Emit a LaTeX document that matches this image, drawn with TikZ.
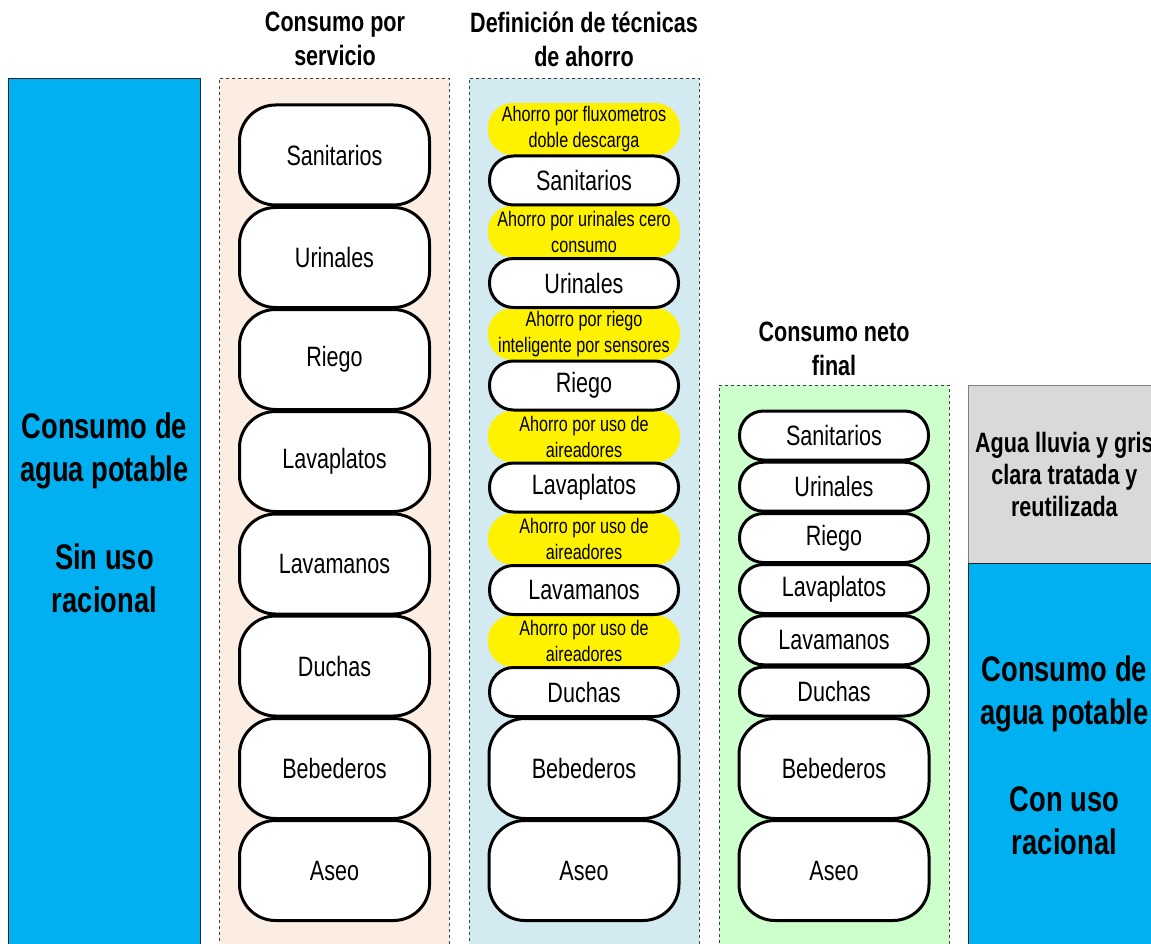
\documentclass[tikz,border=0pt]{standalone}
\usepackage{fontspec}
\setmainfont{Liberation Sans}[FakeStretch=0.77]
\usepackage{tikz}
\usetikzlibrary{positioning}
\definecolor{azul}{RGB}{0,176,240}
\definecolor{durazno}{RGB}{252,237,227}
\definecolor{celeste}{RGB}{210,234,240}
\definecolor{verde}{RGB}{204,255,204}
\definecolor{gris}{RGB}{217,217,217}

\begin{document}
\begin{tikzpicture}[x=1pt, y=-1pt,
    bar/.style={draw=black!85, line width=0.8pt, anchor=north west, align=center,
                font=\bfseries\fontsize{35.5}{43}\selectfont},
    colbox/.style={draw=black!75, dashed, line width=0.7pt, anchor=north west,
                   minimum width=230pt, minimum height=870pt},
    hdr/.style={font=\bfseries\fontsize{28}{34}\selectfont, align=center},
    pill/.style={draw, line width=3pt, fill=white, rounded corners=36pt,
                 minimum width=190pt, minimum height=100pt,
                 font=\fontsize{28}{34}\selectfont},
    pillsm/.style={draw, line width=3pt, fill=white, rounded corners=24pt,
                   minimum width=189pt, minimum height=49pt,
                   font=\fontsize{28}{34}\selectfont},
    ahorro/.style={fill=yellow, rounded corners=25pt, minimum width=192pt,
                   minimum height=52pt, align=center,
                   font=\fontsize{21}{26}\selectfont},
  ]
    \useasboundingbox (0,0) rectangle (1151,944);
    \clip (0,0) rectangle (1151,944);

    % Left bar
    \node[bar, fill=azul, minimum width=192pt, minimum height=868pt] (sinuso) at (8,78)
      {Consumo de\\agua potable\\[45pt]Sin uso\\racional};

    % Columns
    \node[colbox, fill=durazno] (serv) at (219,78) {};
    \node[colbox, fill=celeste] (tec)  at (469,78) {};
    \node[colbox, fill=verde, minimum height=563pt] (neto) at (719,385) {};

    \node[hdr] (hserv) at (335,39)  {Consumo por\\servicio};
    \node[hdr] (htec)  at (584,39)  {Definición de técnicas\\de ahorro};
    \node[hdr] (hneto) at (834,349) {Consumo neto\\final};

    % Consumo por servicio
    \node[pill] (s1) at (334.5,155)   {Sanitarios};
    \node[pill] (u1) at (334.5,257.5) {Urinales};
    \node[pill] (r1) at (334.5,359.5) {Riego};
    \node[pill] (p1) at (334.5,461.5) {Lavaplatos};
    \node[pill] (m1) at (334.5,564)   {Lavamanos};
    \node[pill] (d1) at (334.5,666)   {Duchas};
    \node[pill] (b1) at (334.5,768.5) {Bebederos};
    \node[pill] (a1) at (334.5,870.5) {Aseo};

    % Tecnicas de ahorro
    \node[ahorro] (t1) at (584,129)   {Ahorro por fluxometros\\doble descarga};
    \node[ahorro] (t2) at (584,231.5) {Ahorro por urinales cero\\consumo};
    \node[ahorro] (t3) at (584,334)   {Ahorro por riego\\inteligente por sensores};
    \node[ahorro] (t4) at (584,436.5) {Ahorro por uso de\\aireadores};
    \node[ahorro] (t5) at (584,539)   {Ahorro por uso de\\aireadores};
    \node[ahorro] (t6) at (584,641)   {Ahorro por uso de\\aireadores};

    \node[pillsm] (s2) at (584,180.5) {Sanitarios};
    \node[pillsm] (u2) at (584,283)   {Urinales};
    \node[pillsm] (r2) at (584,385.5) {Riego};
    \node[pillsm] (p2) at (584,487.5) {Lavaplatos};
    \node[pillsm] (m2) at (584,590)   {Lavamanos};
    \node[pillsm] (d2) at (584,692)   {Duchas};
    \node[pill]   (b2) at (584,768.5) {Bebederos};
    \node[pill]   (a2) at (584,870.5) {Aseo};

    % Consumo neto final
    \node[pillsm] (s3) at (834,435.5) {Sanitarios};
    \node[pillsm] (u3) at (834,486.7) {Urinales};
    \node[pillsm] (r3) at (834,538)   {Riego};
    \node[pillsm] (p3) at (834,589)   {Lavaplatos};
    \node[pillsm] (m3) at (834,640.3) {Lavamanos};
    \node[pillsm] (d3) at (834,691.5) {Duchas};
    \node[pill]   (b3) at (834,768.5) {Bebederos};
    \node[pill]   (a3) at (834,870.5) {Aseo};

    % Right bars
    \node[bar, fill=gris, draw=black!50, minimum width=192pt, minimum height=178pt,
          font=\bfseries\fontsize{28}{32}\selectfont] (reuso) at (968,385)
      {Agua lluvia y gris\\clara tratada y\\reutilizada};
    \node[bar, fill=azul, minimum width=192pt, minimum height=383pt] (conuso) at (968,563)
      {Consumo de\\agua potable\\[44pt]Con uso\\racional};
  \end{tikzpicture}
\end{document}
